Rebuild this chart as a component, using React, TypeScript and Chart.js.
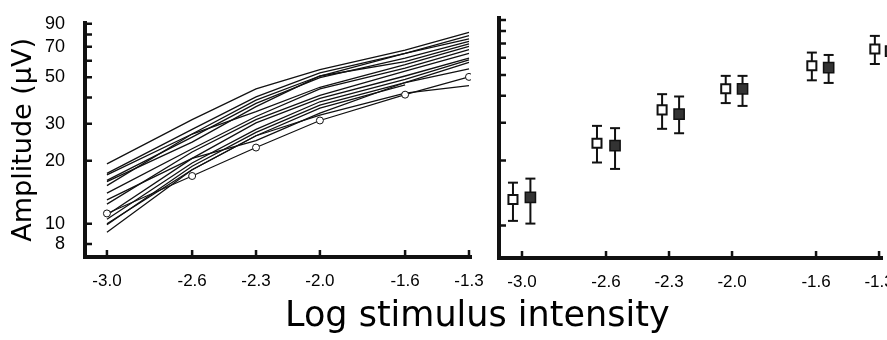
import React, { useEffect, useRef } from 'react';
import { Chart, registerables } from 'chart.js';

Chart.register(...registerables);

// ---- Data ----
const intensities = [-3.0, -2.6, -2.3, -2.0, -1.6, -1.3];

const subj01 = [19.3, 31.4, 44.0, 54.4, 67.3, 81.8];
const subj02 = [17.4, 28.2, 40.3, 52.5, 65.0, 78.9];
const subj03 = [17.1, 26.8, 38.9, 50.7, 65.0, 76.2];
const subj04 = [16.1, 25.9, 37.5, 49.8, 61.7, 74.1];
const subj05 = [15.9, 24.5, 36.2, 50.7, 59.4, 72.2];
const subj06 = [15.2, 26.8, 34.3, 44.8, 57.4, 70.3];
const subj07 = [14.0, 22.8, 32.5, 44.0, 55.3, 67.8];
const subj08 = [12.4, 22.0, 31.4, 41.0, 53.5, 65.0];
const subj09 = [11.0, 20.5, 30.3, 39.6, 50.7, 61.7];
const subj10 = [10.5, 19.5, 28.2, 38.2, 48.9, 60.5];
const subj11 = [9.9, 18.8, 27.3, 36.8, 47.2, 58.9];
const subj12 = [9.1, 18.1, 26.3, 35.6, 46.0, null];
const subj13 = [13.0, 20.5, 24.9, 33.7, 47.2, 54.8];
const subj14 = [10.0, 18.1, 26.3, 33.0, 42.0, 45.6];
const circledSubject = [11.2, 16.9, 23.1, 31.1, 41.3, 50.2];

const subjects = [subj01, subj02, subj03, subj04, subj05, subj06, subj07, subj08, subj09, subj10, subj11, subj12, subj13, subj14];

const openX = [-3.043, -2.643, -2.333, -2.03, -1.62, -1.32];
const openMean = [13.2, 24.1, 34.4, 43.1, 55.2, 66.0];
const openHigh = [15.8, 29.0, 40.7, 49.5, 63.5, 75.9];
const openLow = [10.5, 19.6, 28.1, 37.0, 47.2, 56.2];

const filledX = [-2.96, -2.557, -2.252, -1.95, -1.54, -1.245];
const filledMean = [13.5, 23.5, 32.9, 43.1, 54.1, 64.5];
const filledHigh = [16.5, 28.3, 39.7, 49.5, 61.9, 74.0];
const filledLow = [10.2, 18.3, 26.8, 35.9, 45.9, 55.0];

const xTickValues = [-3.0, -2.6, -2.3, -2.0, -1.6, -1.3];
const leftYTicks = [8, 10, 20, 30, 40, 50, 60, 70, 80, 90];
const leftYLabelled = [8, 10, 20, 30, 50, 70, 90];
const rightYTicks = [10, 20, 30, 40, 50, 60, 70, 80, 90];

const yTitle = 'Amplitude (μV)';
const xTitle = 'Log stimulus intensity';

// ---- helpers ----
const INK = '#111';
const W = 887;
const H = 340;
const RW = 940; // right canvas extends past the viewport so the last tick label never squeezes the plot

const inwardTicks = {
  id: 'inwardTicks',
  afterDraw(chart: any) {
    const { ctx, chartArea } = chart;
    const xs = chart.scales.x;
    const ys = chart.scales.y;
    ctx.save();
    ctx.strokeStyle = INK;
    ctx.lineWidth = 2.5;
    ctx.beginPath();
    ys.ticks.forEach((t: any) => {
      const p = ys.getPixelForValue(t.value);
      ctx.moveTo(chartArea.left, p);
      ctx.lineTo(chartArea.left + 7, p);
    });
    xs.ticks.forEach((t: any) => {
      const p = xs.getPixelForValue(t.value);
      ctx.moveTo(p, chartArea.bottom);
      ctx.lineTo(p, chartArea.bottom - 7);
    });
    ctx.stroke();
    ctx.restore();
  },
};

const fmtX = (v: number) => (v < 0 ? '-' : '') + Math.abs(v).toFixed(1);

function xScale(min: number, max: number, height: number) {
  return {
    type: 'linear',
    position: 'bottom',
    min,
    max,
    afterBuildTicks: (s: any) => {
      s.ticks = xTickValues.map((v) => ({ value: v }));
    },
    afterFit: (s: any) => {
      s.height = height;
    },
    grid: { display: false },
    border: { display: true, width: 4, color: INK },
    ticks: {
      autoSkip: false,
      maxRotation: 0,
      padding: 6,
      color: '#000',
      font: { family: 'Liberation Sans', size: 17 },
      callback: (v: any) => fmtX(Number(v)),
    },
  };
}

function buildErrorData(xsArr: number[], lo: number[], hi: number[]) {
  const out: any[] = [];
  xsArr.forEach((x, i) => {
    out.push({ x, y: lo[i] });
    out.push({ x, y: hi[i] });
    out.push({ x, y: null });
  });
  return out;
}

export default function App() {
  const leftRef = useRef<HTMLCanvasElement>(null);
  const rightRef = useRef<HTMLCanvasElement>(null);

  useEffect(() => {
    const lineSets: any[] = subjects.map((s) => ({
      data: s
        .map((v, i) => (v == null ? null : { x: intensities[i], y: v }))
        .filter((p) => p !== null),
      showLine: true,
      borderColor: INK,
      borderWidth: 1.3,
      pointRadius: 0,
      fill: false,
    }));
    lineSets.unshift({
      data: circledSubject.map((v, i) => ({ x: intensities[i], y: v })),
      showLine: true,
      borderColor: INK,
      borderWidth: 1.2,
      pointRadius: 3.5,
      pointStyle: 'circle',
      pointBackgroundColor: '#fff',
      pointBorderColor: INK,
      pointBorderWidth: 1,
      fill: false,
    });

    const left = new Chart(leftRef.current as HTMLCanvasElement, {
      type: 'scatter',
      data: { datasets: lineSets },
      options: {
        responsive: false,
        animation: false,
        events: [],
        layout: { autoPadding: false, padding: { left: 0, top: 15, right: W - 471, bottom: 0 } },
        plugins: { legend: { display: false }, tooltip: { enabled: false } },
        scales: {
          x: xScale(-3.103, -1.2906, H - 257),
          y: {
            type: 'logarithmic',
            min: 6.94,
            max: 90.96,
            afterBuildTicks: (s: any) => {
              s.ticks = leftYTicks.map((v) => ({ value: v }));
            },
            afterFit: (s: any) => {
              s.width = 85;
            },
            grid: { display: false },
            border: { display: true, width: 4, color: INK },
            ticks: {
              autoSkip: false,
              padding: 12,
              color: '#000',
              font: { family: 'Liberation Sans', size: 18 },
              callback: (v: any) => (leftYLabelled.includes(Number(v)) ? String(v) : ''),
            },
            title: {
              display: true,
              text: yTitle,
              color: '#000',
              padding: { top: 8, bottom: 0 },
              font: { family: 'DejaVu Sans', size: 27 },
            },
          },
        },
      } as any,
      plugins: [inwardTicks],
    });

    const right = new Chart(rightRef.current as HTMLCanvasElement, {
      type: 'scatter',
      data: {
        datasets: [
          {
            data: openX.map((x, i) => ({ x, y: openMean[i] })),
            pointStyle: 'rect',
            pointRadius: 6.4,
            pointBackgroundColor: '#fff',
            pointBorderColor: INK,
            pointBorderWidth: 2,
            clip: false,
          },
          {
            data: filledX.map((x, i) => ({ x, y: filledMean[i] })),
            pointStyle: 'rect',
            pointRadius: 7.2,
            pointBackgroundColor: '#333',
            pointBorderColor: INK,
            pointBorderWidth: 1.5,
            clip: false,
          },
          {
            data: buildErrorData(openX, openLow, openHigh),
            showLine: true,
            spanGaps: false,
            borderColor: INK,
            borderWidth: 2,
            pointStyle: 'line',
            pointRadius: 5,
            pointBorderColor: INK,
            pointBorderWidth: 2,
            clip: false,
          },
          {
            data: buildErrorData(filledX, filledLow, filledHigh),
            showLine: true,
            spanGaps: false,
            borderColor: INK,
            borderWidth: 2,
            pointStyle: 'line',
            pointRadius: 5,
            pointBorderColor: INK,
            pointBorderWidth: 2,
            clip: false,
          },
        ],
      },
      options: {
        responsive: false,
        animation: false,
        events: [],
        layout: { autoPadding: false, padding: { left: 480, top: 18, right: RW - 882, bottom: 0 } },
        plugins: { legend: { display: false }, tooltip: { enabled: false } },
        scales: {
          x: xScale(-3.1095, -1.286, H - 258),
          y: {
            type: 'logarithmic',
            min: 7.06,
            max: 91.9,
            afterBuildTicks: (s: any) => {
              s.ticks = rightYTicks.map((v) => ({ value: v }));
            },
            afterFit: (s: any) => {
              s.width = 19;
            },
            grid: { display: false },
            border: { display: true, width: 4, color: INK },
            ticks: { display: false },
          },
        },
      } as any,
      plugins: [inwardTicks],
    });

    return () => {
      left.destroy();
      right.destroy();
    };
  }, []);

  const canvasStyle: React.CSSProperties = { position: 'absolute', left: 0, top: 0 };

  return (
    <div style={{ position: 'absolute', left: 0, top: 0, width: W, height: H, background: '#fff', overflow: 'hidden' }}>
      <canvas ref={leftRef} width={W} height={H} style={canvasStyle} />
      <canvas ref={rightRef} width={RW} height={H} style={canvasStyle} />
      <div
        style={{
          position: 'absolute',
          left: 285,
          top: 297,
          fontFamily: 'DejaVu Sans',
          fontSize: 35,
          lineHeight: '35px',
          color: '#000',
          whiteSpace: 'nowrap',
        }}
      >
        {xTitle}
      </div>
    </div>
  );
}
